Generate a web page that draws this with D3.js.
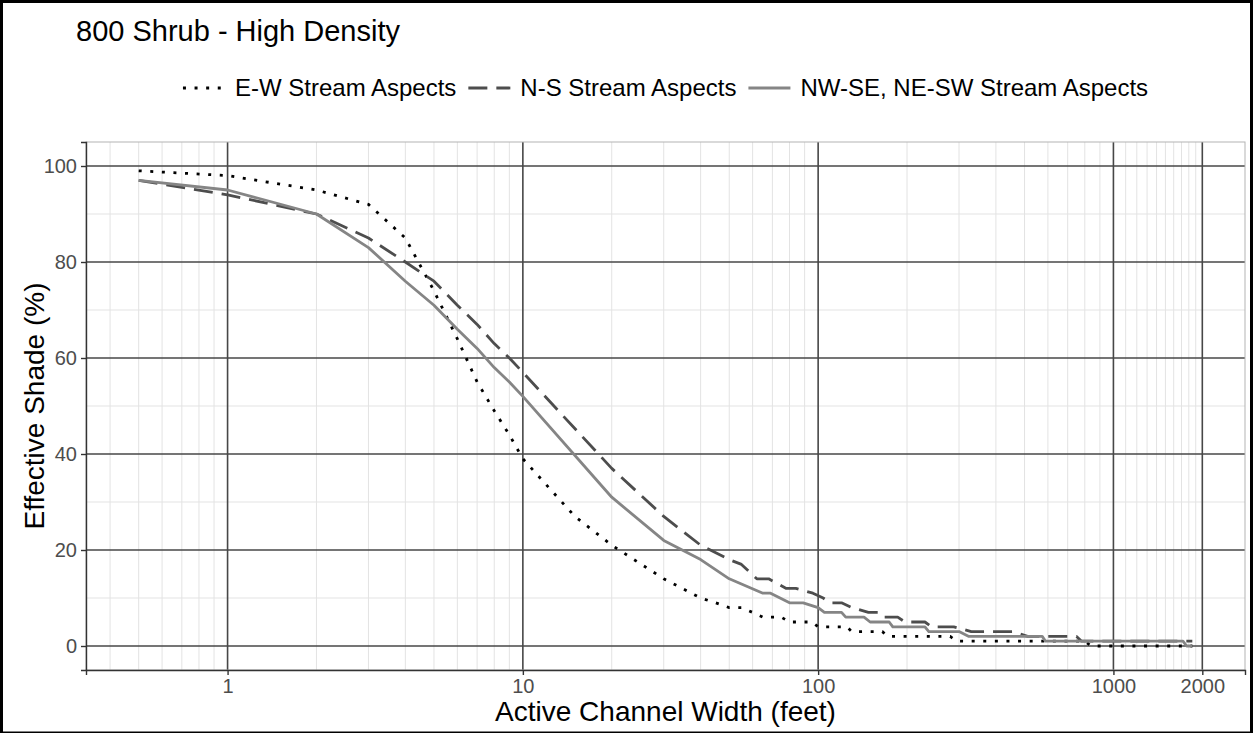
<!DOCTYPE html>
<html>
<head>
<meta charset="utf-8">
<script src="https://cdn.jsdelivr.net/npm/d3@7"></script>
<style>
  body { margin: 0; background: #ffffff; }
  text { font-family: "Liberation Sans", Arial, sans-serif; }
</style>
</head>
<body>
<svg id="chart" width="1253" height="733"></svg>
<script>
// widths (feet) and effective shade (%)
const ewWidth = [0.5, 1, 2, 3, 4, 5, 6, 7, 8, 9, 10, 15, 20, 30, 40, 45, 50, 55, 60, 65, 75, 80, 95, 100, 125, 130, 165, 172, 280, 295, 800, 840, 1850];
const ewShade = [99, 98, 95, 92, 85, 74, 64, 55, 49, 44, 39, 27, 21, 14, 10, 9, 8, 8, 7, 6, 6, 5, 5, 4, 4, 3, 3, 2, 2, 1, 1, 0, 0];

const nsWidth = [0.5, 1, 2, 3, 4, 5, 6, 7, 8, 9, 10, 20, 30, 40, 50, 55, 62, 68, 78, 84, 96, 104, 110, 120, 130, 148, 160, 166, 186, 197, 230, 242, 288, 330, 457, 512, 750, 780, 1850];
const nsShade = [97, 94, 90, 85, 80, 76, 71, 67, 63, 60, 57, 37, 27, 21, 18, 17, 14, 14, 12, 12, 11, 10, 9, 9, 8, 7, 7, 6, 6, 5, 5, 4, 4, 3, 3, 2, 2, 1, 1];

const diagWidth = [0.5, 1, 2, 3, 4, 5, 6, 7, 8, 9, 10, 20, 30, 40, 50, 65, 69, 80, 89, 100, 105, 120, 124, 143, 150, 174, 179, 230, 237, 300, 324, 574, 589, 1720, 1770, 1850];
const diagShade = [97, 95, 90, 83, 76, 71, 66, 62, 58, 55, 52, 31, 22, 18, 14, 11, 11, 9, 9, 8, 7, 7, 6, 6, 5, 5, 4, 4, 3, 3, 2, 2, 1, 1, 0, 0];

const seriesNames = ["E-W Stream Aspects", "N-S Stream Aspects", "NW-SE, NE-SW Stream Aspects"];
const xBreaks = [1, 10, 100, 1000, 2000];
const yBreaks = [0, 20, 40, 60, 80, 100];
const yMinor = [10, 30, 50, 70, 90];

const W = 1253, H = 733;
const panel = { left: 86, right: 1245, top: 142, bottom: 670 };

const svg = d3.select("#chart");

// outer frame
svg.append("rect")
  .attr("x", 1.5).attr("y", 1.5)
  .attr("width", W - 3).attr("height", H - 1.5)
  .attr("fill", "white")
  .attr("stroke", "black")
  .attr("stroke-width", 3);

const series = [
  { name: seriesNames[0], w: ewWidth, s: ewShade, color: "#000000", dash: "3,8.6" },
  { name: seriesNames[1], w: nsWidth, s: nsShade, color: "#4d4d4d", dash: "19,9" },
  { name: seriesNames[2], w: diagWidth, s: diagShade, color: "#858585", dash: null }
];

// log x scale with ggplot-like 5% expansion
const allW = ewWidth.concat(nsWidth, diagWidth);
const lmin = Math.log10(d3.min(allW)), lmax = Math.log10(d3.max(allW));
const pad = (lmax - lmin) * 0.05;
const x = d3.scaleLog()
  .domain([Math.pow(10, lmin - pad), Math.pow(10, lmax + pad)])
  .range([panel.left, panel.right]);

const y = d3.scaleLinear()
  .domain([-5, 105])
  .range([panel.bottom, panel.top]);

// minor grid
let xMinor = [];
[-1, 0, 1, 2].forEach(function (p) {
  for (let k = 2; k <= 9; k++) xMinor.push(k * Math.pow(10, p));
});
for (let k = 11; k <= 19; k++) xMinor.push(k * 100);
xMinor = xMinor.filter(v => v > x.domain()[0] && v < x.domain()[1]);

const grid = svg.append("g");
grid.selectAll(".xminor").data(xMinor).enter().append("line")
  .attr("x1", d => x(d)).attr("x2", d => x(d))
  .attr("y1", panel.top).attr("y2", panel.bottom)
  .attr("stroke", "#e3e3e3").attr("stroke-width", 1);
grid.selectAll(".yminor").data(yMinor).enter().append("line")
  .attr("x1", panel.left).attr("x2", panel.right)
  .attr("y1", d => y(d)).attr("y2", d => y(d))
  .attr("stroke", "#e3e3e3").attr("stroke-width", 1);

// major grid
grid.selectAll(".xmajor").data(xBreaks).enter().append("line")
  .attr("x1", d => x(d)).attr("x2", d => x(d))
  .attr("y1", panel.top).attr("y2", panel.bottom)
  .attr("stroke", "#474747").attr("stroke-width", 1.6);
grid.selectAll(".ymajor").data(yBreaks).enter().append("line")
  .attr("x1", panel.left).attr("x2", panel.right)
  .attr("y1", d => y(d)).attr("y2", d => y(d))
  .attr("stroke", "#474747").attr("stroke-width", 1.6);

// panel border
svg.append("rect")
  .attr("x", panel.left).attr("y", panel.top)
  .attr("width", panel.right - panel.left).attr("height", panel.bottom - panel.top)
  .attr("fill", "none").attr("stroke", "#b3b3b3").attr("stroke-width", 1);

// curves
const line = d3.line()
  .x(d => x(d[0]))
  .y(d => y(d[1]));

series.forEach(function (s) {
  const pts = s.w.map((w, i) => [w, s.s[i]]);
  svg.append("path")
    .datum(pts)
    .attr("d", line)
    .attr("fill", "none")
    .attr("stroke", s.color)
    .attr("stroke-width", 2.8)
    .attr("stroke-dasharray", s.dash)
    .attr("stroke-linejoin", "round");
});

// axes
const xAxis = svg.append("g")
  .attr("transform", `translate(0,${panel.bottom})`)
  .call(d3.axisBottom(x).tickValues(xBreaks).tickFormat(d3.format("d")).tickSizeOuter(0).tickSize(5).tickPadding(4));
const yAxis = svg.append("g")
  .attr("transform", `translate(${panel.left},0)`)
  .call(d3.axisLeft(y).tickValues(yBreaks).tickSizeOuter(0).tickSize(5).tickPadding(4));

[xAxis, yAxis].forEach(function (a) {
  a.select(".domain").attr("stroke", "#333333").attr("stroke-width", 1.4);
  a.selectAll(".tick line").attr("stroke", "#333333").attr("stroke-width", 1.4);
  a.selectAll(".tick text")
    .attr("fill", "#4d4d4d")
    .style("font-size", "20px")
    .style("font-family", "'Liberation Sans', Arial, sans-serif");
});

// titles
svg.append("text")
  .attr("x", 76).attr("y", 41)
  .style("font-size", "29px")
  .attr("fill", "black")
  .text("800 Shrub - High Density");

svg.append("text")
  .attr("x", (panel.left + panel.right) / 2).attr("y", 721)
  .attr("text-anchor", "middle")
  .style("font-size", "28px")
  .attr("fill", "black")
  .text("Active Channel Width (feet)");

svg.append("text")
  .attr("transform", `translate(44,${(panel.top + panel.bottom) / 2}) rotate(-90)`)
  .attr("text-anchor", "middle")
  .style("font-size", "28px")
  .attr("fill", "black")
  .text("Effective Shade (%)");

// legend
const legend = svg.append("g");
let lx = 0;
series.forEach(function (s, i) {
  const item = legend.append("g").attr("transform", `translate(${lx},0)`);
  item.append("line")
    .attr("x1", 0).attr("x2", 42)
    .attr("y1", 0).attr("y2", 0)
    .attr("stroke", s.color)
    .attr("stroke-width", 2.8)
    .attr("stroke-dasharray", s.dash);
  const t = item.append("text")
    .attr("x", 52).attr("y", 8)
    .style("font-size", "24px")
    .attr("fill", "black")
    .text(s.name);
  lx += 52 + t.node().getComputedTextLength() + 12;
});
const legendW = lx - 12;
legend.attr("transform", `translate(${(panel.left + panel.right) / 2 - legendW / 2},88)`);
</script>
</body>
</html>
